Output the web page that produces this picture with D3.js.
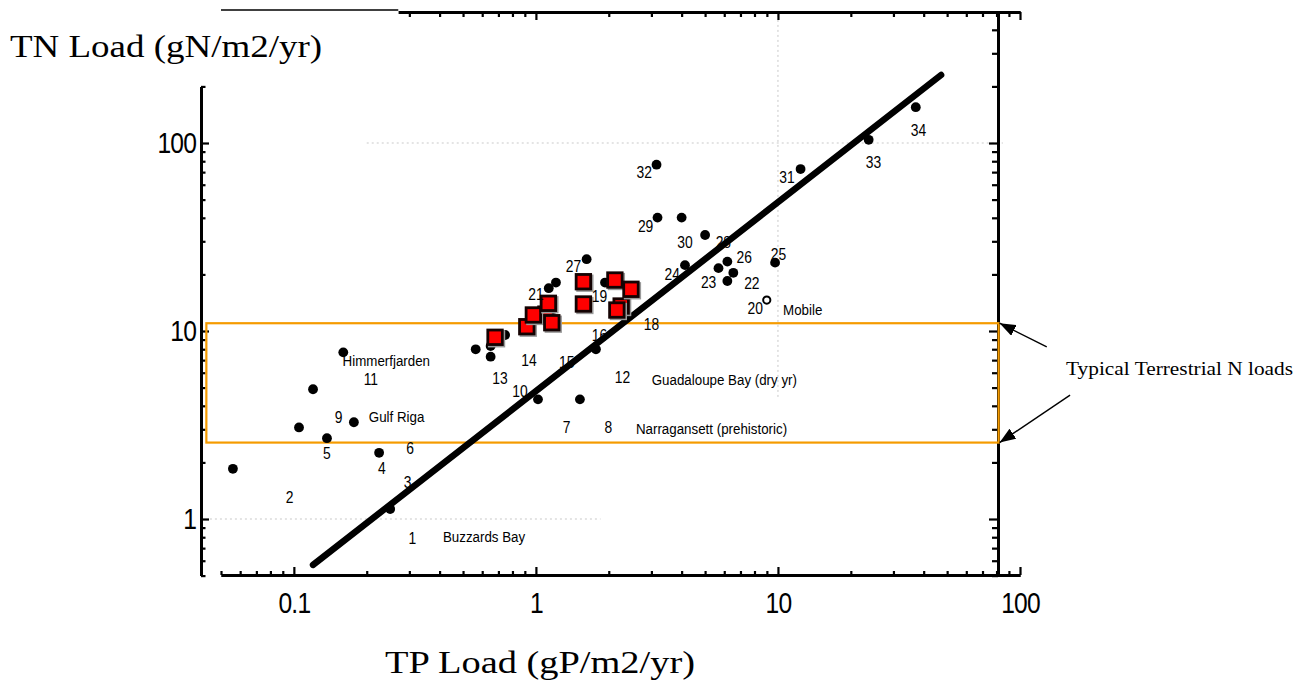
<!DOCTYPE html>
<html>
<head>
<meta charset="utf-8">
<script src="https://cdn.jsdelivr.net/npm/d3@7"></script>
<style>
  body { margin: 0; background: #fff; }
</style>
</head>
<body>
<div id="chart"></div>
<script>
// ---- data (TP load, TN load) ----
const dotTP = [0.056, 0.105, 0.120, 0.137, 0.160, 0.177, 0.225, 0.250, 0.564, 0.650, 0.650, 0.746,
  1.02, 1.52, 1.77, 1.13, 1.21, 1.62, 1.93, 3.15, 3.18, 4.0, 5.0, 4.13, 5.68, 6.18, 6.54, 6.18,
  9.73, 12.4, 23.7, 37.1];
const dotTN = [1.85, 3.07, 4.9, 2.69, 7.7, 3.27, 2.25, 1.13, 7.99, 8.32, 7.30, 9.52,
  4.33, 4.33, 8.0, 16.9, 18.1, 24.1, 18.1, 76.7, 40.1, 40.1, 32.4, 22.4, 21.6, 23.4, 20.4, 18.45,
  23.1, 72.7, 104, 155];

const squareTP = [0.678, 0.917, 1.10, 0.976, 1.126, 1.163, 1.571, 1.571, 2.25, 2.12, 2.47, 2.16];
const squareTN = [9.26, 10.54, 12.3, 12.17, 14.04, 11.07, 18.29, 13.92, 13.58, 18.67, 16.67, 12.93];

const openTP = [8.99];
const openTN = [14.6];

const siteNums = ["1", "2", "3", "4", "5", "6", "7", "8", "9", "10", "11", "12", "13", "14", "15", "16",
  "18", "19", "20", "21", "22", "23", "24", "25", "26", "27", "28", "29", "30", "31", "32", "33", "34"];
const siteNumTP = [0.309, 0.096, 0.295, 0.231, 0.137, 0.302, 1.34, 1.99, 0.153, 0.86, 0.208, 2.28, 0.711,
  0.937, 1.34, 1.83, 3.0, 1.83, 8.05, 1.0, 7.8, 5.17, 3.66, 10.05, 7.25, 1.43, 5.95, 2.84, 4.13, 10.9,
  2.80, 24.8, 38.1];
const siteNumTN = [0.789, 1.314, 1.579, 1.868, 2.236, 2.377, 3.097, 3.097, 3.501, 4.797, 5.555, 5.672, 5.63,
  7.01, 6.866, 9.52, 10.96, 15.36, 13.2, 15.64, 17.94, 18.23, 20.1, 25.68, 24.85, 22.09, 29.64, 36.4,
  29.64, 66.2, 70.4, 79.5, 117.3];

const siteNames = ["Himmerfjarden", "Gulf Riga", "Buzzards Bay", "Mobile",
  "Guadaloupe Bay (dry yr)", "Narragansett (prehistoric)"];
const siteNameTP = [0.159, 0.204, 0.413, 10.5, 3.01, 2.59];
const siteNameTN = [7.01, 3.50, 0.812, 13.04, 5.555, 3.037];

// fitted line end points
const fitTP = [0.12, 47.2];
const fitTN = [0.57, 230];

// typical terrestrial N load band
const bandTP = [0.0435, 81.6];
const bandTN = [2.55, 11.0];
const noteText = "Typical Terrestrial N loads";
const noteTP = 155;
const noteTN = 5.83;
const arrowFromTP = [129, 161];
const arrowFromTN = [8.23, 4.56];

const xLabelTicks = [0.1, 1, 10, 100];
const yLabelTicks = [1, 10, 100];


/*******************************/
/*    Declare the constants    */
/*******************************/
const width = 1311;
const height = 687;
const sans = "'Liberation Sans', Arial, sans-serif";
const serif = "'Liberation Serif', 'Times New Roman', serif";

const svg = d3.select("#chart")
  .append("svg")
    .attr("width", width)
    .attr("height", height)
    .attr("viewBox", `0 0 ${width} ${height}`);

// squeeze a text horizontally, like a narrow face
const condense = (sel, factor) => sel.each(function() {
  const w = this.getComputedTextLength();
  this.setAttribute("textLength", w * factor);
  this.setAttribute("lengthAdjust", "spacingAndGlyphs");
});

/****************************/
/*    Declare the scales    */
/****************************/
const xScale = d3.scaleLog()
  .domain([0.05, 100])
  .range([221, 1020]);

const yScale = d3.scaleLog()
  .domain([0.5, 500])
  .range([575.6, 11.6]);

const yLeft = yScale.copy().domain([0.5, 200]).range([yScale(0.5), yScale(200)]);
const xTop = xScale.copy().domain([0.27, 100]).range([xScale(0.27), xScale(100)]);

const isMajor = v => Math.abs(Math.log10(v) - Math.round(Math.log10(v))) < 1e-6;


/**************************/
/*       Gridlines        */
/**************************/
const grid = svg.append("g")
  .attr("stroke", "#c9c9c9")
  .attr("stroke-width", 1)
  .attr("stroke-dasharray", "2,3");
grid.append("line")
  .attr("x1", xScale(0.045)).attr("x2", xScale(1.85))
  .attr("y1", yScale(1)).attr("y2", yScale(1));
grid.append("line")
  .attr("x1", xScale(0.2)).attr("x2", xScale(85))
  .attr("y1", yScale(100)).attr("y2", yScale(100));
grid.append("line")
  .attr("x1", xScale(10)).attr("x2", xScale(10))
  .attr("y1", yScale(480)).attr("y2", yScale(4.3));


/**************************/
/*      Add the axes      */
/**************************/
const addFrameAxis = (axisGen, scale, transform, minorLen, majorLen) => {
  const g = svg.append("g").attr("transform", transform);
  const ticks = scale.ticks();
  g.append("g")
    .call(axisGen(scale).tickValues(ticks.filter(d => !isMajor(d)))
      .tickSize(minorLen).tickSizeOuter(0).tickFormat(""));
  g.append("g")
    .call(axisGen(scale).tickValues(ticks.filter(isMajor))
      .tickSize(majorLen).tickSizeOuter(0).tickFormat(""));
  g.selectAll(".domain").attr("stroke-width", 3);
  g.selectAll(".tick line").attr("stroke-width", 2.2);
  return g;
};

// left, bottom, top, right
addFrameAxis(d3.axisRight, yLeft, "translate(201, 0)", 4.5, 8);
addFrameAxis(d3.axisTop, xScale, "translate(0, 575)", 4, 8);
addFrameAxis(d3.axisBottom, xTop, "translate(0, 12)", 5, 8);
addFrameAxis(d3.axisLeft, yScale, "translate(998, 0)", 6, 9);

svg.append("line")
  .attr("x1", xScale(0.05)).attr("x2", xScale(0.27))
  .attr("y1", 10).attr("y2", 10)
  .attr("stroke", "black")
  .attr("stroke-width", 1.6);

const leftLabels = svg.append("g")
  .attr("transform", "translate(201, 0)")
  .call(d3.axisLeft(yLeft).tickValues(yLabelTicks).tickSize(0).tickPadding(5)
    .tickFormat(d3.format("~g")));
leftLabels.select(".domain").remove();

const bottomLabels = svg.append("g")
  .attr("transform", "translate(0, 575)")
  .call(d3.axisBottom(xScale).tickValues(xLabelTicks).tickSize(0).tickPadding(17)
    .tickFormat(d3.format("~g")));
bottomLabels.select(".domain").remove();

svg.selectAll(".tick text")
  .attr("font-family", sans)
  .attr("font-size", 30)
  .attr("letter-spacing", -1)
  .attr("fill", "black")
  .call(condense, 0.82);

svg.append("text")
  .text("TN Load (gN/m2/yr)")
  .attr("x", 10)
  .attr("y", 57)
  .attr("font-family", serif)
  .attr("font-size", 32)
  .attr("textLength", 312)
  .attr("lengthAdjust", "spacingAndGlyphs");

svg.append("text")
  .text("TP Load (gP/m2/yr)")
  .attr("x", 385)
  .attr("y", 673)
  .attr("font-family", serif)
  .attr("font-size", 32)
  .attr("textLength", 310)
  .attr("lengthAdjust", "spacingAndGlyphs");


/**************************/
/*    Terrestrial band    */
/**************************/
svg.append("rect")
  .attr("x", xScale(bandTP[0]))
  .attr("y", yScale(bandTN[1]))
  .attr("width", xScale(bandTP[1]) - xScale(bandTP[0]))
  .attr("height", yScale(bandTN[0]) - yScale(bandTN[1]))
  .attr("fill", "none")
  .attr("stroke", "#f59b00")
  .attr("stroke-width", 2.2);


/**************************/
/*     Fitted line        */
/**************************/
svg.append("line")
  .attr("x1", xScale(fitTP[0])).attr("y1", yScale(fitTN[0]))
  .attr("x2", xScale(fitTP[1])).attr("y2", yScale(fitTN[1]))
  .attr("stroke", "black")
  .attr("stroke-width", 6.5)
  .attr("stroke-linecap", "round");


/**************************/
/*     Points             */
/**************************/
svg.append("g")
  .selectAll("circle")
  .data(d3.zip(dotTP, dotTN))
  .join("circle")
    .attr("cx", d => xScale(d[0]))
    .attr("cy", d => yScale(d[1]))
    .attr("r", 4.9)
    .attr("fill", "black");

svg.append("g")
  .selectAll("circle")
  .data(d3.zip(openTP, openTN))
  .join("circle")
    .attr("cx", d => xScale(d[0]))
    .attr("cy", d => yScale(d[1]))
    .attr("r", 3.6)
    .attr("fill", "white")
    .attr("stroke", "black")
    .attr("stroke-width", 2);

const sq = 14.5;
const squares = svg.append("g")
  .selectAll("g")
  .data(d3.zip(squareTP, squareTN))
  .join("g")
    .attr("transform", d => `translate(${xScale(d[0])}, ${yScale(d[1])})`);
squares.append("rect")
  .attr("x", -sq / 2 + 1.5).attr("y", -sq / 2 + 1.5)
  .attr("width", sq).attr("height", sq)
  .attr("fill", "#9a9a9a")
  .attr("stroke", "#9a9a9a")
  .attr("stroke-width", 2.8);
squares.append("rect")
  .attr("x", -sq / 2).attr("y", -sq / 2)
  .attr("width", sq).attr("height", sq)
  .attr("fill", "#ff0000")
  .attr("stroke", "#140202")
  .attr("stroke-width", 2.8);


/**************************/
/*     Site labels        */
/**************************/
svg.append("g")
  .selectAll("text")
  .data(d3.zip(siteNums, siteNumTP, siteNumTN))
  .join("text")
    .text(d => d[0])
    .attr("x", d => xScale(d[1]))
    .attr("y", d => yScale(d[2]))
    .attr("text-anchor", "middle")
    .attr("dominant-baseline", "central")
    .attr("font-family", sans)
    .attr("font-size", 16.5)
    .call(condense, 0.84);

svg.append("g")
  .selectAll("text")
  .data(d3.zip(siteNames, siteNameTP, siteNameTN))
  .join("text")
    .text(d => d[0])
    .attr("x", d => xScale(d[1]))
    .attr("y", d => yScale(d[2]))
    .attr("dominant-baseline", "central")
    .attr("font-family", sans)
    .attr("font-size", 15.5)
    .call(condense, 0.86);


/**************************/
/*     Annotation         */
/**************************/
svg.append("defs")
  .append("marker")
    .attr("id", "arrowhead")
    .attr("markerUnits", "userSpaceOnUse")
    .attr("viewBox", "0 0 16 12")
    .attr("refX", 16).attr("refY", 6)
    .attr("markerWidth", 16).attr("markerHeight", 12)
    .attr("orient", "auto")
  .append("path")
    .attr("d", "M0,0 L16,6 L0,12 Z")
    .attr("fill", "black");

const arrowTipTN = [bandTN[1], bandTN[0]];
svg.append("g")
  .selectAll("line")
  .data(d3.zip(arrowFromTP, arrowFromTN, arrowTipTN))
  .join("line")
    .attr("x1", d => xScale(d[0]))
    .attr("y1", d => yScale(d[1]))
    .attr("x2", xScale(bandTP[1]) + 1)
    .attr("y2", d => yScale(d[2]))
    .attr("stroke", "black")
    .attr("stroke-width", 1.4)
    .attr("marker-end", "url(#arrowhead)");

svg.append("text")
  .text(noteText)
  .attr("x", xScale(noteTP))
  .attr("y", yScale(noteTN))
  .attr("font-family", serif)
  .attr("font-size", 18)
  .attr("textLength", 227)
  .attr("lengthAdjust", "spacingAndGlyphs");
</script>
</body>
</html>
